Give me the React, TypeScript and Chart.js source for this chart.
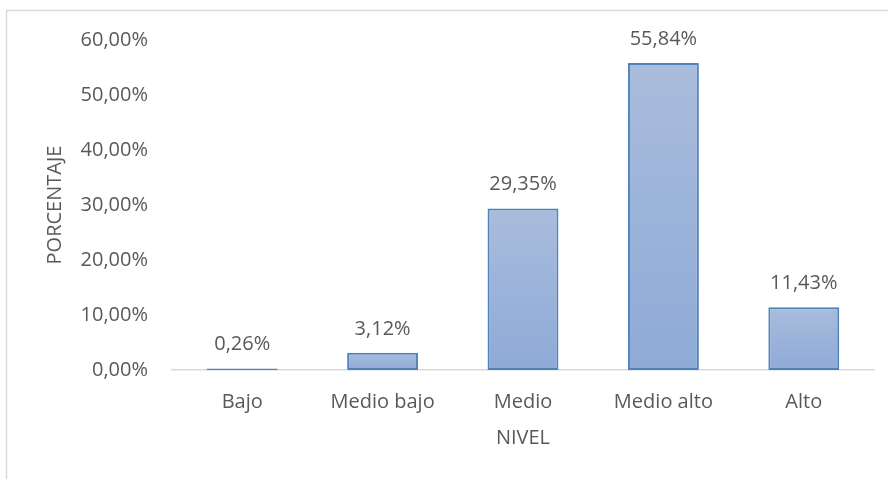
import React, { useEffect, useRef } from "react";
import { Chart, registerables } from "chart.js";

Chart.register(...registerables);

const categories = ["Bajo", "Medio bajo", "Medio", "Medio alto", "Alto"];
const values = [0.26, 3.12, 29.35, 55.84, 11.43];
const yMax = 60;
const yStep = 10;
const xTitle = "NIVEL";
const yTitle = "PORCENTAJE";

const FONT = "'Open Sans', 'Liberation Sans', sans-serif";
const TEXT = "#595959";

const fmt = (v: number) => v.toFixed(2).replace(".", ",") + "%";

export default function App() {
  const ref = useRef<HTMLCanvasElement | null>(null);

  useEffect(() => {
    document.body.style.margin = "0";
    const canvas = ref.current;
    if (!canvas) return;

    const frame = {
      id: "frame",
      beforeDraw(chart: any) {
        const ctx = chart.ctx;
        ctx.save();
        ctx.fillStyle = "#ffffff";
        ctx.fillRect(0, 0, chart.width, chart.height);
        ctx.strokeStyle = "#d9d9d9";
        ctx.lineWidth = 1.5;
        ctx.strokeRect(6.5, 10.5, 1000, 1000);
        ctx.restore();
      },
    };

    const labelsPlugin = {
      id: "valueLabels",
      afterDatasetsDraw(chart: any) {
        const ctx = chart.ctx;
        const meta = chart.getDatasetMeta(0);
        ctx.save();
        ctx.fillStyle = TEXT;
        ctx.font = `20px ${FONT}`;
        ctx.textAlign = "center";
        ctx.textBaseline = "middle";
        meta.data.forEach((bar: any, i: number) => {
          ctx.fillText(fmt(values[i]), bar.x, bar.y - 24);
        });
        ctx.restore();
      },
    };

    const chart = new Chart(canvas, {
      type: "bar",
      data: {
        labels: categories,
        datasets: [
          {
            data: values,
            backgroundColor: (c: any) => {
              const ch = c.chart;
              const ys = ch.scales && ch.scales.y;
              if (!ch.chartArea || !ys || c.parsed == null) return "#9bb3da";
              const top = ys.getPixelForValue(c.parsed.y);
              const bottom = ys.getPixelForValue(0);
              const g = ch.ctx.createLinearGradient(0, top, 0, Math.max(bottom, top + 1));
              g.addColorStop(0, "#a9bcdc");
              g.addColorStop(1, "#8eaad7");
              return g;
            },
            borderColor: "#4f81bd",
            borderWidth: 2,
            borderSkipped: false,
            categoryPercentage: 1,
            barPercentage: 0.505,
          },
        ],
      },
      options: {
        animation: false,
        responsive: false,
        maintainAspectRatio: false,
        layout: { padding: { left: 43, right: 14, top: 40, bottom: 29 } },
        plugins: {
          legend: { display: false },
          tooltip: { enabled: false },
        },
        scales: {
          x: {
            grid: { display: false, drawTicks: false },
            border: { display: true, color: "#d9d9d9", width: 1.5 },
            ticks: {
              color: TEXT,
              font: { family: FONT, size: 20 },
              padding: 20,
              maxRotation: 0,
              autoSkip: false,
            },
            title: {
              display: true,
              text: xTitle,
              color: TEXT,
              font: { family: FONT, size: 20 },
              padding: 0,
            },
            afterFit: (s: any) => {
              s.height = 80;
            },
          },
          y: {
            min: 0,
            max: yMax,
            grid: { display: false, drawTicks: false },
            border: { display: false },
            ticks: {
              stepSize: yStep,
              color: TEXT,
              font: { family: FONT, size: 20 },
              padding: 24,
              callback: (v: any) => fmt(Number(v)),
            },
            title: {
              display: true,
              text: yTitle,
              color: TEXT,
              font: { family: FONT, size: 20 },
              padding: 0,
            },
            afterFit: (s: any) => {
              s.width = 129;
            },
          },
        },
      },
      plugins: [frame, labelsPlugin],
    });

    return () => chart.destroy();
  }, []);

  return (
    <div style={{ position: "fixed", left: 0, top: 0, width: 888, height: 479, background: "#fff" }}>
      <canvas ref={ref} width={888} height={479} style={{ width: 888, height: 479, display: "block" }} />
    </div>
  );
}
